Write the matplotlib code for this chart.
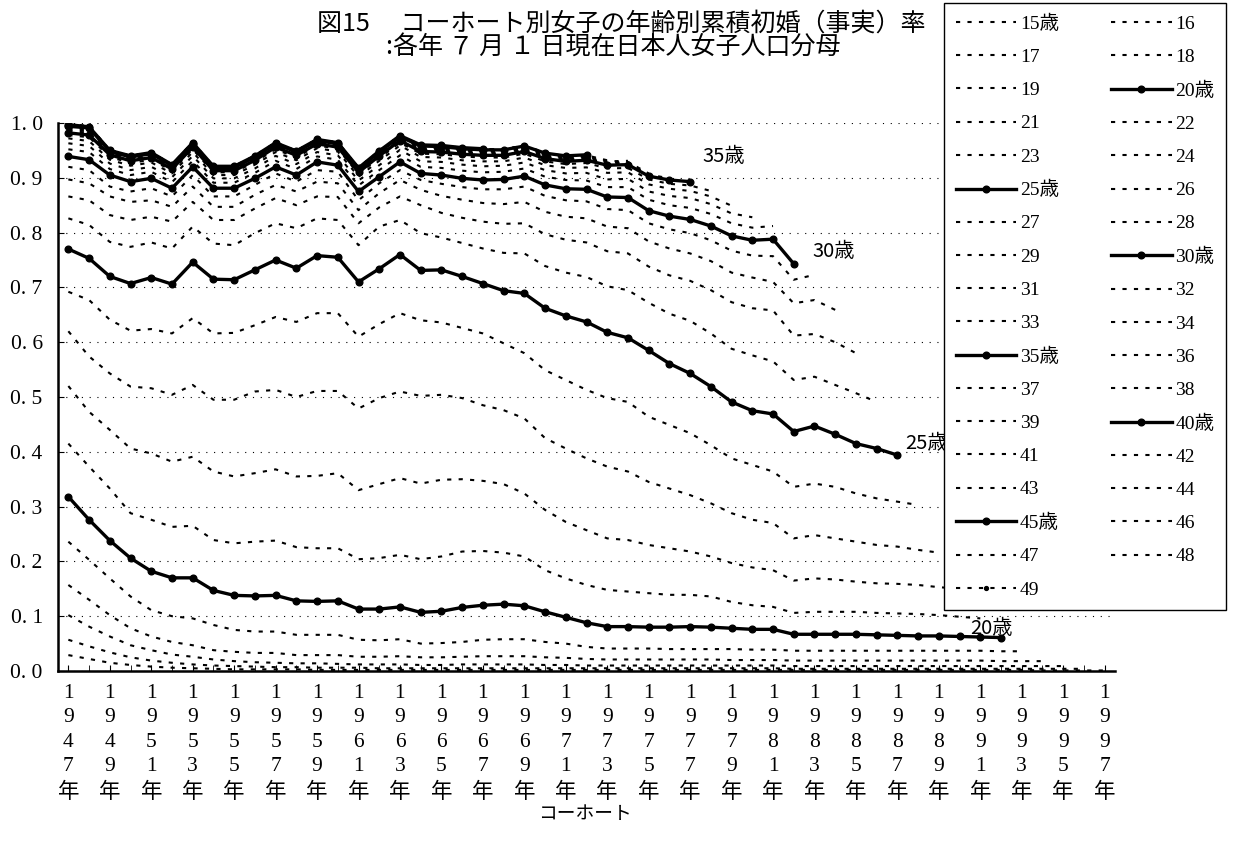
import matplotlib
matplotlib.use("Agg")
import matplotlib.pyplot as plt
from matplotlib.font_manager import FontProperties

# cohorts (birth year) 1947-1997
cohorts = list(range(1947, 1998))

# cumulative first-marriage rate by age, one list per age, starting at 1947
r15 = [0.029, 0.022, 0.015, 0.011, 0.008, 0.006, 0.005, 0.004, 0.003, 0.003,
       0.003, 0.003, 0.002, 0.002, 0.002, 0.002, 0.002, 0.002, 0.002, 0.002,
       0.002, 0.002, 0.002, 0.002, 0.002, 0.002, 0.002, 0.002, 0.002, 0.002,
       0.002, 0.002, 0.002, 0.002, 0.002, 0.002, 0.002, 0.002, 0.002, 0.002,
       0.002, 0.002, 0.002, 0.002, 0.002, 0.002, 0.002, 0.001, 0.001, 0.001,
       0.001]
r16 = [0.057, 0.045, 0.034, 0.025, 0.019, 0.015, 0.012, 0.010, 0.009, 0.008,
       0.007, 0.007, 0.006, 0.006, 0.006, 0.005, 0.005, 0.005, 0.005, 0.005,
       0.005, 0.005, 0.005, 0.005, 0.005, 0.005, 0.005, 0.005, 0.005, 0.005,
       0.005, 0.005, 0.005, 0.005, 0.005, 0.004, 0.004, 0.004, 0.004, 0.004,
       0.004, 0.004, 0.004, 0.004, 0.004, 0.004, 0.004, 0.004, 0.004, 0.004]
r17 = [0.102, 0.081, 0.063, 0.047, 0.038, 0.030, 0.026, 0.021, 0.018, 0.016,
       0.015, 0.014, 0.014, 0.013, 0.012, 0.012, 0.012, 0.011, 0.011, 0.012,
       0.012, 0.012, 0.012, 0.011, 0.011, 0.010, 0.010, 0.010, 0.010, 0.010,
       0.010, 0.010, 0.010, 0.010, 0.010, 0.009, 0.009, 0.009, 0.009, 0.009,
       0.009, 0.009, 0.009, 0.009, 0.009, 0.009, 0.009, 0.009, 0.009]
r18 = [0.157, 0.130, 0.102, 0.078, 0.063, 0.053, 0.047, 0.038, 0.035, 0.033,
       0.033, 0.029, 0.029, 0.029, 0.026, 0.026, 0.027, 0.025, 0.025, 0.026,
       0.027, 0.027, 0.027, 0.025, 0.024, 0.022, 0.021, 0.021, 0.021, 0.021,
       0.021, 0.021, 0.020, 0.020, 0.020, 0.019, 0.019, 0.019, 0.019, 0.019,
       0.019, 0.019, 0.019, 0.019, 0.019, 0.018, 0.018, 0.018]
r19 = [0.236, 0.203, 0.169, 0.136, 0.111, 0.100, 0.096, 0.084, 0.075, 0.072,
       0.072, 0.066, 0.066, 0.066, 0.057, 0.056, 0.058, 0.050, 0.051, 0.053,
       0.057, 0.058, 0.058, 0.053, 0.050, 0.044, 0.041, 0.041, 0.041, 0.040,
       0.040, 0.040, 0.040, 0.039, 0.039, 0.037, 0.037, 0.037, 0.037, 0.037,
       0.037, 0.037, 0.037, 0.037, 0.037, 0.036, 0.036]
r20 = [0.318, 0.276, 0.238, 0.206, 0.182, 0.170, 0.170, 0.147, 0.138, 0.137,
       0.138, 0.128, 0.127, 0.128, 0.113, 0.113, 0.117, 0.107, 0.109, 0.116,
       0.120, 0.122, 0.119, 0.108, 0.098, 0.088, 0.081, 0.081, 0.080, 0.080,
       0.081, 0.080, 0.078, 0.076, 0.076, 0.067, 0.067, 0.067, 0.067, 0.066,
       0.065, 0.064, 0.064, 0.063, 0.062, 0.061]
r21 = [0.415, 0.373, 0.333, 0.288, 0.276, 0.263, 0.265, 0.239, 0.233, 0.236,
       0.238, 0.226, 0.224, 0.224, 0.204, 0.206, 0.212, 0.204, 0.209, 0.218,
       0.219, 0.216, 0.209, 0.184, 0.169, 0.157, 0.148, 0.145, 0.142, 0.139,
       0.139, 0.136, 0.126, 0.120, 0.117, 0.106, 0.108, 0.108, 0.108, 0.106,
       0.105, 0.104, 0.102, 0.099, 0.096]
r22 = [0.520, 0.473, 0.440, 0.406, 0.397, 0.382, 0.391, 0.364, 0.355, 0.361,
       0.368, 0.355, 0.356, 0.361, 0.330, 0.341, 0.352, 0.342, 0.349, 0.350,
       0.347, 0.341, 0.324, 0.294, 0.272, 0.257, 0.242, 0.239, 0.230, 0.224,
       0.218, 0.209, 0.197, 0.189, 0.184, 0.165, 0.169, 0.167, 0.163, 0.160,
       0.159, 0.157, 0.153, 0.150]
r23 = [0.620, 0.574, 0.543, 0.519, 0.516, 0.504, 0.522, 0.495, 0.495, 0.510,
       0.513, 0.500, 0.511, 0.511, 0.479, 0.498, 0.510, 0.502, 0.504, 0.498,
       0.485, 0.476, 0.461, 0.425, 0.406, 0.388, 0.373, 0.364, 0.345, 0.333,
       0.321, 0.306, 0.288, 0.276, 0.270, 0.242, 0.248, 0.242, 0.236, 0.230,
       0.227, 0.221, 0.216]
r24 = [0.692, 0.677, 0.641, 0.621, 0.624, 0.616, 0.644, 0.616, 0.617, 0.631,
       0.646, 0.637, 0.653, 0.653, 0.610, 0.633, 0.653, 0.640, 0.636, 0.626,
       0.616, 0.598, 0.580, 0.549, 0.531, 0.513, 0.498, 0.491, 0.464, 0.449,
       0.434, 0.412, 0.388, 0.376, 0.364, 0.336, 0.342, 0.336, 0.324, 0.315,
       0.309, 0.303]
r25 = [0.770, 0.753, 0.720, 0.707, 0.718, 0.706, 0.746, 0.715, 0.714, 0.732,
       0.750, 0.735, 0.758, 0.755, 0.710, 0.734, 0.760, 0.731, 0.732, 0.720,
       0.707, 0.694, 0.689, 0.662, 0.648, 0.637, 0.618, 0.608, 0.585, 0.561,
       0.543, 0.519, 0.491, 0.475, 0.469, 0.437, 0.447, 0.432, 0.415, 0.406,
       0.394]
r26 = [0.826, 0.814, 0.783, 0.774, 0.782, 0.771, 0.811, 0.780, 0.777, 0.799,
       0.817, 0.808, 0.826, 0.823, 0.777, 0.811, 0.823, 0.799, 0.791, 0.781,
       0.771, 0.763, 0.762, 0.739, 0.727, 0.719, 0.702, 0.695, 0.672, 0.652,
       0.639, 0.616, 0.588, 0.576, 0.565, 0.531, 0.537, 0.522, 0.507, 0.491]
r27 = [0.866, 0.859, 0.832, 0.823, 0.829, 0.820, 0.856, 0.823, 0.823, 0.844,
       0.863, 0.850, 0.866, 0.865, 0.817, 0.846, 0.866, 0.850, 0.836, 0.827,
       0.820, 0.816, 0.817, 0.797, 0.787, 0.782, 0.766, 0.762, 0.738, 0.722,
       0.712, 0.695, 0.673, 0.662, 0.658, 0.612, 0.615, 0.600, 0.580]
r28 = [0.897, 0.890, 0.866, 0.856, 0.859, 0.847, 0.884, 0.847, 0.847, 0.869,
       0.887, 0.875, 0.893, 0.890, 0.841, 0.872, 0.896, 0.878, 0.867, 0.860,
       0.854, 0.852, 0.856, 0.838, 0.829, 0.826, 0.811, 0.808, 0.784, 0.771,
       0.762, 0.748, 0.727, 0.718, 0.710, 0.671, 0.677, 0.659]
r29 = [0.920, 0.914, 0.884, 0.875, 0.881, 0.866, 0.905, 0.866, 0.866, 0.887,
       0.908, 0.893, 0.914, 0.911, 0.859, 0.890, 0.914, 0.896, 0.889, 0.883,
       0.879, 0.879, 0.884, 0.867, 0.859, 0.857, 0.843, 0.841, 0.817, 0.806,
       0.799, 0.786, 0.767, 0.758, 0.757, 0.714, 0.723]
r30 = [0.939, 0.933, 0.905, 0.893, 0.899, 0.881, 0.920, 0.881, 0.881, 0.899,
       0.920, 0.905, 0.929, 0.923, 0.875, 0.902, 0.929, 0.908, 0.905, 0.899,
       0.896, 0.897, 0.903, 0.887, 0.880, 0.879, 0.865, 0.864, 0.840, 0.830,
       0.824, 0.812, 0.794, 0.786, 0.788, 0.743]
r31 = [0.952, 0.947, 0.916, 0.905, 0.911, 0.892, 0.931, 0.891, 0.891, 0.909,
       0.931, 0.916, 0.939, 0.933, 0.886, 0.914, 0.941, 0.920, 0.918, 0.913,
       0.910, 0.911, 0.917, 0.902, 0.896, 0.895, 0.883, 0.883, 0.860, 0.850,
       0.845, 0.834, 0.817, 0.809, 0.812]
r32 = [0.963, 0.958, 0.926, 0.914, 0.920, 0.901, 0.940, 0.899, 0.899, 0.917,
       0.940, 0.925, 0.947, 0.941, 0.895, 0.923, 0.951, 0.930, 0.929, 0.924,
       0.921, 0.922, 0.928, 0.914, 0.908, 0.909, 0.897, 0.898, 0.875, 0.867,
       0.863, 0.852, 0.835, 0.828]
r33 = [0.972, 0.967, 0.933, 0.922, 0.928, 0.908, 0.947, 0.905, 0.905, 0.924,
       0.947, 0.932, 0.954, 0.948, 0.902, 0.931, 0.959, 0.938, 0.937, 0.932,
       0.930, 0.930, 0.937, 0.923, 0.918, 0.919, 0.909, 0.910, 0.888, 0.880,
       0.876, 0.866, 0.849]
r34 = [0.978, 0.974, 0.938, 0.927, 0.933, 0.913, 0.952, 0.910, 0.910, 0.929,
       0.952, 0.937, 0.959, 0.953, 0.907, 0.936, 0.964, 0.944, 0.943, 0.939,
       0.937, 0.937, 0.944, 0.930, 0.925, 0.927, 0.917, 0.918, 0.897, 0.889,
       0.886, 0.876]
r35 = [0.982, 0.978, 0.942, 0.931, 0.937, 0.916, 0.956, 0.913, 0.913, 0.932,
       0.956, 0.941, 0.962, 0.956, 0.910, 0.940, 0.968, 0.948, 0.947, 0.943,
       0.941, 0.941, 0.948, 0.935, 0.930, 0.932, 0.923, 0.924, 0.903, 0.896,
       0.893]
r36 = [0.986, 0.982, 0.944, 0.933, 0.939, 0.918, 0.958, 0.915, 0.915, 0.934,
       0.958, 0.943, 0.964, 0.958, 0.912, 0.942, 0.970, 0.951, 0.950, 0.946,
       0.944, 0.944, 0.951, 0.938, 0.933, 0.935, 0.926, 0.927, 0.906, 0.899]
r37 = [0.989, 0.985, 0.946, 0.935, 0.941, 0.920, 0.960, 0.917, 0.917, 0.936,
       0.960, 0.945, 0.966, 0.960, 0.914, 0.944, 0.972, 0.953, 0.952, 0.948,
       0.946, 0.946, 0.953, 0.940, 0.935, 0.937, 0.928, 0.929, 0.908]
r38 = [0.991, 0.988, 0.947, 0.936, 0.942, 0.921, 0.961, 0.918, 0.918, 0.937,
       0.961, 0.946, 0.967, 0.961, 0.915, 0.945, 0.973, 0.955, 0.954, 0.950,
       0.948, 0.948, 0.955, 0.942, 0.937, 0.939, 0.930, 0.931]
r39 = [0.993, 0.990, 0.948, 0.937, 0.943, 0.922, 0.962, 0.919, 0.919, 0.938,
       0.962, 0.947, 0.968, 0.962, 0.916, 0.946, 0.974, 0.957, 0.956, 0.952,
       0.950, 0.950, 0.957, 0.944, 0.939, 0.941, 0.932]
r40 = [0.994, 0.991, 0.948, 0.938, 0.944, 0.922, 0.962, 0.919, 0.919, 0.938,
       0.962, 0.947, 0.968, 0.962, 0.916, 0.947, 0.975, 0.958, 0.957, 0.953,
       0.951, 0.951, 0.958, 0.945, 0.940, 0.942]
r41 = [0.995, 0.992, 0.949, 0.939, 0.945, 0.923, 0.963, 0.920, 0.920, 0.939,
       0.963, 0.948, 0.969, 0.963, 0.917, 0.948, 0.976, 0.958, 0.957, 0.953,
       0.951, 0.951, 0.958, 0.945, 0.940]
r42 = [0.996, 0.992, 0.949, 0.939, 0.945, 0.923, 0.963, 0.920, 0.920, 0.939,
       0.963, 0.948, 0.969, 0.963, 0.917, 0.948, 0.976, 0.959, 0.958, 0.954,
       0.952, 0.952, 0.959, 0.946]
r43 = [0.996, 0.993, 0.949, 0.939, 0.945, 0.923, 0.963, 0.920, 0.920, 0.939,
       0.963, 0.948, 0.969, 0.963, 0.917, 0.948, 0.976, 0.959, 0.958, 0.954,
       0.952, 0.952, 0.959]
r44 = [0.996, 0.993, 0.950, 0.940, 0.946, 0.924, 0.964, 0.921, 0.921, 0.940,
       0.964, 0.949, 0.970, 0.964, 0.918, 0.948, 0.976, 0.959, 0.958, 0.954,
       0.952, 0.952]
r45 = [0.997, 0.993, 0.950, 0.940, 0.946, 0.924, 0.964, 0.921, 0.921, 0.940,
       0.964, 0.949, 0.970, 0.964, 0.918, 0.949, 0.977, 0.960, 0.959, 0.955,
       0.953]
r46 = [0.997, 0.994, 0.950, 0.940, 0.946, 0.924, 0.964, 0.921, 0.921, 0.940,
       0.964, 0.949, 0.970, 0.964, 0.918, 0.949, 0.977, 0.960, 0.959, 0.955]
r47 = [0.997, 0.994, 0.950, 0.940, 0.946, 0.924, 0.964, 0.921, 0.921, 0.940,
       0.964, 0.949, 0.970, 0.964, 0.918, 0.949, 0.977, 0.960, 0.959]
r48 = [0.997, 0.994, 0.950, 0.940, 0.946, 0.924, 0.964, 0.921, 0.921, 0.940,
       0.964, 0.949, 0.970, 0.964, 0.918, 0.949, 0.977, 0.960]
r49 = [0.997, 0.994, 0.950, 0.940, 0.946, 0.924, 0.964, 0.921, 0.921, 0.940,
       0.964, 0.949, 0.970, 0.964, 0.918, 0.949, 0.977]

ages = list(range(15, 50))
rates = [r15, r16, r17, r18, r19, r20, r21, r22, r23, r24, r25, r26, r27, r28,
         r29, r30, r31, r32, r33, r34, r35, r36, r37, r38, r39, r40, r41, r42,
         r43, r44, r45, r46, r47, r48, r49]
bold_ages = [20, 25, 30, 35, 40, 45]
named_ages = [15, 20, 25, 30, 35, 40, 45]

serif = ['Liberation Serif', 'Noto Sans CJK JP']
gothic = ['Noto Sans CJK JP', 'DejaVu Sans']
plt.rcParams['font.family'] = serif

fig = plt.figure(figsize=(12.42, 8.47), dpi=100)
ax = fig.add_axes([58/1242, 1-671/847, (1115-58)/1242, (671-123)/847])

handles = {}
for a, r in zip(ages, rates):
    xs = cohorts[:len(r)]
    if a in bold_ages:
        ln, = ax.plot(xs, r, color='black', lw=2.4, marker='o', ms=4.8, zorder=4)
    elif a == 49:
        ln, = ax.plot(xs, r, color='black', lw=1.5, ls=(0, (2, 3.5)),
                      marker='o', ms=2.8, zorder=3)
    else:
        ln, = ax.plot(xs, r, color='black', lw=1.5, ls=(0, (2, 3.5)), zorder=3)
    handles[a] = ln

ax.set_xlim(1946.5, 1997.5)
ax.set_ylim(0, 1.0)
ax.set_yticks([i/10 for i in range(11)])
ax.set_yticklabels(['%d. %d' % (i//10, i % 10) for i in range(11)], fontsize=15.5)
ax.yaxis.grid(True, ls=(0, (1, 6)), color='black', lw=0.8)
xt = cohorts[::2]
ax.set_xticks(xt)
ax.set_xticklabels(['\n'.join(str(y)) + '\n年' for y in xt], fontsize=15.5,
                   linespacing=1.4)
ax.set_xticks(cohorts, minor=True)
ax.tick_params(axis='x', which='both', direction='in', length=4, pad=9)
ax.tick_params(axis='y', direction='in', length=4, pad=11)
for s in ['top', 'right']:
    ax.spines[s].set_visible(False)
for s in ['left', 'bottom']:
    ax.spines[s].set_linewidth(1.8)

# end labels
ax.text(1977.6, 0.938, '35歳', family=gothic, fontsize=14.5, va='center')
ax.text(1982.9, 0.765, '30歳', family=gothic, fontsize=14.5, va='center')
ax.text(1987.4, 0.416, '25歳', family=gothic, fontsize=14.5, va='center')
ax.text(1990.5, 0.078, '20歳', family=gothic, fontsize=14.5, va='center')

fig.text(0.500, 0.972, '図15　 コーホート別女子の年齢別累積初婚（事実）率',
         family=gothic, fontsize=18, ha='center', va='center')
fig.text(0.4936, 0.944, ':各年 ７ 月 １ 日現在日本人女子人口分母',
         family=gothic, fontsize=18, ha='center', va='center')
fig.text(585/1242, 1-813/847, 'コーホート', family=gothic, fontsize=13.5,
         ha='center', va='center')

order = list(range(15, 50, 2)) + list(range(16, 50, 2))
labels = [('%d歳' % a) if a in named_ages else str(a) for a in order]
leg = fig.legend([handles[a] for a in order], labels, ncol=2,
                 loc='upper left', bbox_to_anchor=(944/1242, 1-3/847),
                 borderaxespad=0,
                 prop=FontProperties(family=serif, size=14),
                 frameon=True, fancybox=False, framealpha=1,
                 edgecolor='black', handlelength=3.1, handletextpad=0.2,
                 columnspacing=2.7, labelspacing=0.80, borderpad=0.6)
leg.get_frame().set_linewidth(1.0)

fig.savefig('out.png', dpi=100)
